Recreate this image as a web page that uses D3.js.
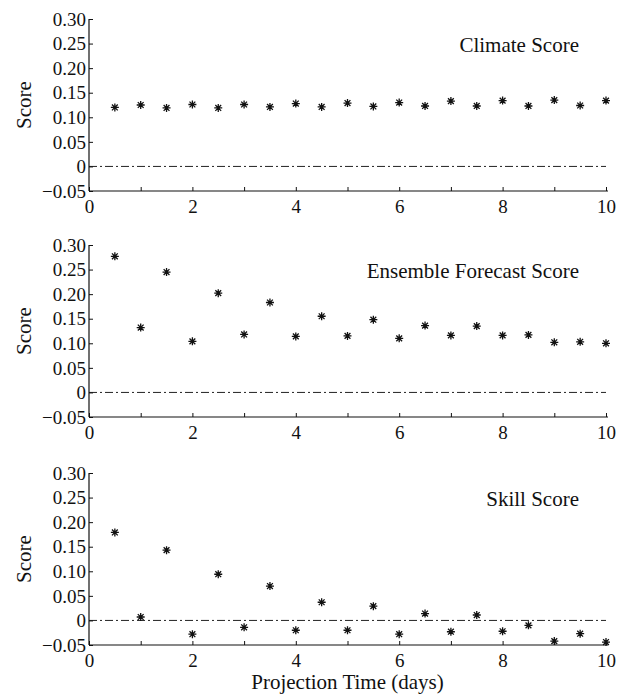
<!DOCTYPE html>
<html>
<head>
<meta charset="utf-8">
<script src="https://cdn.jsdelivr.net/npm/d3@7"></script>
</head>
<body style="margin:0; background:#fff">
<div id="chart"></div>
<script>
// projection times (days)
const days = [0.5, 1, 1.5, 2, 2.5, 3, 3.5, 4, 4.5, 5, 5.5, 6, 6.5, 7, 7.5, 8, 8.5, 9, 9.5, 10];

const climateScore = [0.120, 0.125, 0.119, 0.126, 0.119, 0.126, 0.121, 0.128, 0.121, 0.129,
                      0.122, 0.130, 0.123, 0.133, 0.123, 0.134, 0.123, 0.135, 0.124, 0.134];
const ensembleScore = [0.277, 0.132, 0.245, 0.104, 0.202, 0.118, 0.183, 0.114, 0.155, 0.115,
                       0.148, 0.110, 0.136, 0.116, 0.135, 0.116, 0.117, 0.102, 0.103, 0.100];
const skillScore = [0.179, 0.007, 0.143, -0.028, 0.094, -0.014, 0.070, -0.020, 0.037, -0.020,
                    0.029, -0.028, 0.014, -0.023, 0.011, -0.022, -0.010, -0.042, -0.027, -0.044];

const panelTitles = ["Climate Score", "Ensemble Forecast Score", "Skill Score"];
const panelSeries = [climateScore, ensembleScore, skillScore];
const yTicks = [-0.05, 0, 0.05, 0.10, 0.15, 0.20, 0.25, 0.30];
const xTicks = [0, 1, 2, 3, 4, 5, 6, 7, 8, 9, 10];

const width = 626, height = 694;
const left = 89, right = 606;
const panelTops = [19, 245, 473];
const panelH = 172;
const serif = "'Liberation Serif'";

const svg = d3.select("#chart").append("svg")
    .attr("width", width)
    .attr("height", height);

const x = d3.scaleLinear().domain([0, 10]).range([left, right]);

panelSeries.forEach((series, i) => {
    let top = panelTops[i];
    let bottom = top + panelH;
    let y = d3.scaleLinear().domain([-0.05, 0.30]).range([bottom, top]);

    let g = svg.append("g");

    // zero reference line (dash-dot)
    g.append("line")
        .attr("x1", x(0)).attr("x2", x(10))
        .attr("y1", y(0)).attr("y2", y(0))
        .attr("stroke", "#222")
        .attr("stroke-width", 1)
        .attr("stroke-dasharray", "8,3,2,3");

    // y axis
    let yAxis = g.append("g")
        .attr("transform", `translate(${left},0)`)
        .call(d3.axisLeft(y)
            .tickValues(yTicks)
            .tickSize(-4)
            .tickPadding(3)
            .tickFormat(d => d === 0 ? "0" : (d < 0 ? "\u2212" + Math.abs(d).toFixed(2) : d.toFixed(2))));
    yAxis.select(".domain").attr("d", `M0,${top}V${bottom}`).attr("stroke", "#111").attr("stroke-width", 1.2);
    yAxis.selectAll(".tick line").attr("stroke", "#111");
    yAxis.selectAll(".tick text")
        .style("font-family", serif)
        .style("font-size", "19px")
        .attr("fill", "#111")
        .attr("x", -3)
        .attr("dy", "0.33em");

    // x axis
    let xAxis = g.append("g")
        .attr("transform", `translate(0,${bottom})`)
        .call(d3.axisBottom(x)
            .tickValues(xTicks)
            .tickSize(-4)
            .tickFormat(d => d % 2 === 0 ? d : ""));
    xAxis.select(".domain").attr("d", `M${left},0H${right + 2}`).attr("stroke", "#111").attr("stroke-width", 1.2);
    xAxis.selectAll(".tick line").attr("stroke", "#111");
    xAxis.selectAll(".tick text")
        .style("font-family", serif)
        .style("font-size", "19px")
        .attr("fill", "#111")
        .attr("y", 22)
        .attr("dy", 0);

    // y label
    g.append("text")
        .attr("transform", `translate(31,${(top + bottom) / 2}) rotate(-90)`)
        .attr("text-anchor", "middle")
        .style("font-family", serif)
        .style("font-size", "21px")
        .attr("fill", "#111")
        .text("Score");

    // panel title
    g.append("text")
        .attr("x", 579)
        .attr("y", top + 33)
        .attr("text-anchor", "end")
        .style("font-family", serif)
        .style("font-size", "21px")
        .attr("fill", "#111")
        .text(panelTitles[i]);

    // asterisk markers
    g.selectAll(".star")
        .data(days.map((d, k) => ({day: d, value: series[k]})))
        .enter().append("path")
        .attr("class", "star")
        .attr("transform", d => `translate(${x(d.day)},${y(d.value)})`)
        .attr("d", "M-4,0H4M0,-4V4M-2.9,-2.9L2.9,2.9M-2.9,2.9L2.9,-2.9")
        .attr("stroke", "#111")
        .attr("stroke-width", 1.3)
        .attr("fill", "none");
});

// shared x label
svg.append("text")
    .attr("x", x(5))
    .attr("y", 689)
    .attr("text-anchor", "middle")
    .style("font-family", serif)
    .style("font-size", "21px")
    .attr("fill", "#111")
    .text("Projection Time (days)");
</script>
</body>
</html>
